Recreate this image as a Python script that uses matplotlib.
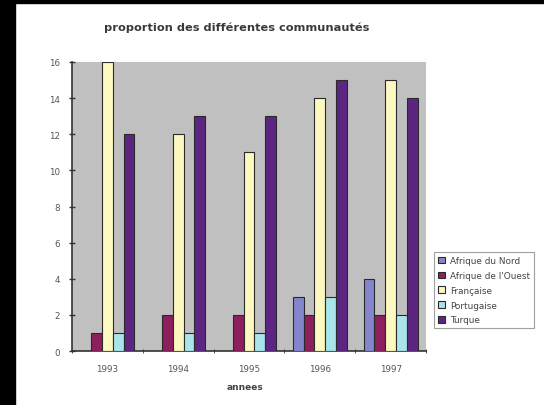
import matplotlib
matplotlib.use("Agg")
import matplotlib.pyplot as plt
import numpy as np

years = ["1993", "1994", "1995", "1996", "1997"]
series_names = ["Afrique du Nord", "Afrique de l'Ouest", "Française", "Portugaise", "Turque"]
afrique_nord = [0, 0, 0, 3, 4]
afrique_ouest = [1, 2, 2, 2, 2]
francaise = [16, 12, 11, 14, 15]
portugaise = [1, 1, 1, 3, 2]
turque = [12, 13, 13, 15, 14]
series_values = [afrique_nord, afrique_ouest, francaise, portugaise, turque]
colors = ["#8585cc", "#8e1f5e", "#fcf8c0", "#a8e4ea", "#5c2582"]

W, H = 544, 406
fig = plt.figure(figsize=(W / 100, H / 100), dpi=100)
fig.patch.set_facecolor("white")

# black border strips (scan edges)
fig.patches.append(plt.Rectangle((0, 0), 15 / W, 1, transform=fig.transFigure, color="black", zorder=10))
fig.patches.append(plt.Rectangle((0, 1 - 4 / H), 1, 4 / H, transform=fig.transFigure, color="black", zorder=10))

left, right, top, bottom = 72, 426, 63, 352
ax = fig.add_axes([left / W, 1 - bottom / H, (right - left) / W, (bottom - top) / H])
ax.set_facecolor("#c0c0c0")

x = np.arange(len(years))
bw = 0.153
for i, (vals, c, name) in enumerate(zip(series_values, colors, series_names)):
    ax.bar(x + (i - 2) * bw, vals, width=bw, color=c, edgecolor="#2a2a2a", linewidth=0.8, label=name, zorder=3)

ax.set_xlim(-0.5, len(years) - 0.5)
ax.set_ylim(0, 16)
ax.set_yticks(range(0, 17, 2))
ax.set_xticks(x)
ax.set_xticklabels(years)
ax.set_xticks(np.arange(-0.5, len(years), 1), minor=True)
ax.tick_params(axis="x", which="major", length=0, labelsize=6.3, pad=9)
ax.tick_params(axis="x", which="minor", length=3, direction="inout", color="#333333")
ax.tick_params(axis="y", which="major", length=5, direction="inout", labelsize=6.3, color="#333333", width=1, pad=6)
for lbl in ax.get_yticklabels() + ax.get_xticklabels():
    lbl.set_color("#555555")

for s in ["top", "right"]:
    ax.spines[s].set_visible(False)
ax.spines["left"].set_color("#333333")
ax.spines["left"].set_linewidth(1.2)
ax.spines["bottom"].set_color("#333333")
ax.spines["bottom"].set_linewidth(1.2)

fig.text(237 / W, 1 - 28 / H, "proportion des différentes communautés", ha="center", va="center",
         fontsize=8.2, fontweight="bold", color="#3a3a3a")
fig.text(245 / W, 1 - 388 / H, "annees", ha="center", va="center", fontsize=6.5,
         fontweight="bold", color="#444444")

leg = fig.legend(loc="upper left", bbox_to_anchor=(434 / W, 1 - 253 / H), fontsize=6.4,
                 frameon=True, fancybox=False, borderpad=0.45, handlelength=0.75, handleheight=0.75,
                 handletextpad=0.6, labelspacing=0.66, borderaxespad=0)
leg.get_frame().set_edgecolor("#888888")
leg.get_frame().set_linewidth(0.8)
for t in leg.get_texts():
    t.set_color("#444444")

fig.savefig("out.png", dpi=100)
